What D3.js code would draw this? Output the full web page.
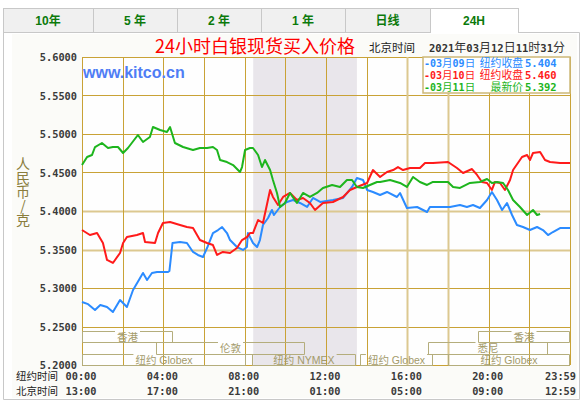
<!DOCTYPE html>
<html><head><meta charset="utf-8">
<script src="https://cdn.jsdelivr.net/npm/d3@7"></script>
<style>
html,body{margin:0;padding:0;background:#fff;}
svg{display:block;}
</style></head>
<body>
<script>
// ---------- data ----------
const tabs = ["10年","5 年","2 年","1 年","日线","24H"];
const title = "24小时白银现货买入价格";
const yAxisTitle = "人民币/克";
const yTicks = [5.20,5.25,5.30,5.35,5.40,5.45,5.50,5.55,5.60];
const gridHours = [0,2,4,6,8,10,12,14,16,18,20,22,24];
const labelHours = [0,4,8,12,16,20,24];
const nyLabels = ["00:00","04:00","08:00","12:00","16:00","20:00","23:59"];
const bjLabels = ["13:00","17:00","21:00","01:00","05:00","09:00","12:59"];
const legendDates = ["03月09日","03月10日","03月11日"];
const legendKinds = ["纽约收盘","纽约收盘","最新价"];
const legendValues = ["5.404","5.460","5.392"];
const nymexBand = [8.42, 13.52];

const sessionNames = ["香港","香港","伦敦","悉尼","纽约 Globex","纽约 NYMEX","纽约 Globex","纽约 Globex"];
const sessionStart = [0, 19.48, 3.64, 17.02, 0, 8.36, 13.67, 18.0];
const sessionEnd   = [4.48, 24, 10.97, 22.92, 8.07, 13.48, 17.26, 24];
const sessionRow   = [0, 0, 1, 1, 2, 2, 2, 2];

const blueHours = [0,0.3,0.64,0.9,1.23,1.52,1.87,2.21,2.51,3.0,3.2,3.44,3.69,4.23,4.3,4.45,4.82,5.16,5.46,5.7,5.95,6.15,6.44,6.69,6.89,7.13,7.28,7.62,7.92,8.11,8.16,8.41,8.61,8.75,8.9,9.15,9.34,9.44,9.74,10.08,10.38,10.72,11.07,11.36,11.71,12.34,12.84,13.28,13.52,13.82,14.02,14.31,14.66,15.0,15.49,15.64,15.98,16.48,16.97,17.11,18.1,18.59,18.93,19.23,19.57,19.92,20.16,20.41,20.66,20.9,21.15,21.39,21.69,22.03,22.38,22.67,22.92,23.16,23.51,24.0];
const blueValues = [5.2818,5.2790,5.2714,5.2780,5.2753,5.2688,5.2844,5.2753,5.2974,5.3195,5.3104,5.3195,5.3208,5.3208,5.3221,5.3584,5.3597,5.3584,5.3468,5.3429,5.3403,5.3519,5.3714,5.3753,5.3792,5.3714,5.3623,5.3532,5.3494,5.3532,5.3714,5.3584,5.3532,5.3623,5.3818,5.3909,5.4013,5.3948,5.4052,5.4117,5.4143,5.4104,5.4052,5.4169,5.4117,5.4143,5.4169,5.4312,5.4429,5.4403,5.4273,5.4247,5.4208,5.4247,5.4182,5.4234,5.4039,5.4052,5.3987,5.4052,5.4052,5.4078,5.4052,5.4078,5.4039,5.4143,5.4247,5.4143,5.4013,5.4104,5.3948,5.3818,5.3792,5.3753,5.3792,5.3753,5.3688,5.3727,5.3779,5.3779];

const redHours = [0,0.39,0.74,1.03,1.23,1.52,1.87,2.02,2.21,2.7,3.0,3.1,3.59,3.74,3.98,4.33,4.82,5.16,5.46,5.8,6.15,6.44,6.64,6.93,7.28,7.62,7.87,8.11,8.26,8.41,8.66,8.9,9.25,9.39,9.64,9.89,10.23,10.57,10.87,11.21,11.46,11.85,12.34,12.84,13.18,13.52,14.02,14.31,14.66,15.0,15.3,15.54,15.79,16.13,16.62,16.87,17.26,18.0,18.44,18.74,19.18,19.43,19.67,19.92,20.16,20.31,20.56,20.8,21.05,21.2,21.64,21.89,22.03,22.18,22.53,22.77,23.02,23.51,24.0];
const redValues = [5.3753,5.3688,5.3714,5.3584,5.3364,5.3325,5.3455,5.3584,5.3662,5.3688,5.3714,5.3597,5.3584,5.3714,5.3844,5.3857,5.3818,5.3792,5.3779,5.3623,5.3584,5.3558,5.3429,5.3468,5.3455,5.3519,5.3623,5.3662,5.3714,5.3714,5.3883,5.3844,5.4273,5.4182,5.4078,5.4182,5.4234,5.4143,5.4169,5.4104,5.4013,5.4104,5.4117,5.4182,5.4273,5.4312,5.4364,5.4532,5.4442,5.4506,5.4532,5.4571,5.4532,5.4558,5.4558,5.4623,5.4623,5.4636,5.4558,5.4494,5.4545,5.4468,5.4377,5.4364,5.4273,5.4377,5.4364,5.4273,5.4403,5.4532,5.4701,5.4727,5.4662,5.4753,5.4766,5.4662,5.4636,5.4623,5.4623];

const greenHours = [0,0.25,0.49,0.64,0.98,1.28,1.52,1.77,2.02,2.26,2.75,3.0,3.34,3.49,3.84,4.18,4.33,4.57,4.97,5.46,5.8,6.15,6.44,6.64,6.79,7.13,7.43,7.77,7.87,8.02,8.26,8.41,8.66,8.85,9.0,9.25,9.39,9.59,9.74,9.98,10.23,10.57,10.87,11.21,11.56,11.85,12.3,12.69,13.03,13.28,13.52,13.82,14.16,14.51,14.66,15.15,15.64,15.98,16.28,16.62,16.97,17.26,18.0,18.25,18.59,19.08,19.57,19.92,20.16,20.41,20.71,20.95,21.2,21.54,21.89,22.18,22.38,22.53];
const greenValues = [5.4597,5.4701,5.4727,5.4831,5.4883,5.4818,5.4831,5.4831,5.4753,5.4818,5.4987,5.4896,5.4961,5.5091,5.5052,5.5026,5.5091,5.4883,5.4831,5.4792,5.4818,5.4818,5.4831,5.4792,5.4662,5.4636,5.4597,5.4506,5.4571,5.4792,5.4818,5.4818,5.4727,5.4571,5.4662,5.4532,5.4403,5.4234,5.4052,5.4104,5.4234,5.4104,5.4234,5.4182,5.4234,5.4299,5.4338,5.4312,5.4403,5.4403,5.4312,5.4299,5.4338,5.4377,5.4377,5.4403,5.4364,5.4312,5.4442,5.4377,5.4338,5.4377,5.4377,5.4312,5.4299,5.4364,5.4377,5.4416,5.4364,5.4377,5.4364,5.4273,5.4143,5.4052,5.3948,5.4013,5.3948,5.3961];

const seriesColors = ["#2b8bff","#ff1a1a","#1db51d"];

// ---------- drawing ----------
const W = 585, H = 402;
const svg = d3.select("body").append("svg").attr("width", W).attr("height", H);
const CJK = "'Noto Sans CJK SC','Noto Sans',sans-serif";
const MONO = "'DejaVu Sans Mono','Liberation Mono',monospace";

// tabs
const tabEdges = [3,93,177,261,345,430,518];
const tabG = svg.append("g");
tabs.forEach((t,i)=>{
  const x0 = tabEdges[i], x1 = tabEdges[i+1];
  const active = i === tabs.length-1;
  tabG.append("rect").attr("x",x0+0.5).attr("y",8.5).attr("width",x1-x0).attr("height",24)
    .attr("fill", active ? "#ffffff" : "#f0f0f0").attr("stroke","#c8c8c8");
  tabG.append("text").attr("x",(x0+x1)/2).attr("y",25).attr("text-anchor","middle")
    .attr("font-family","'Liberation Sans',"+CJK).attr("font-weight","bold").attr("font-size",12)
    .attr("fill","#0b7a0b").text(t);
});
// panel border
svg.append("path").attr("d","M3.5,32.5 V399.5 H579.5 V32.5 H518.5").attr("fill","none").attr("stroke","#c8c8c8");
svg.append("line").attr("x1",3.5).attr("x2",430).attr("y1",32.5).attr("y2",32.5).attr("stroke","#c8c8c8");
svg.append("line").attr("x1",431).attr("x2",518).attr("y1",32.5).attr("y2",32.5).attr("stroke","#fff");

// chart image background
svg.append("rect").attr("x",12).attr("y",34).attr("width",565).attr("height",364).attr("fill","#fbfbf8");

const pL = 82, pR = 570, pT = 57, pB = 365;
const x = d3.scaleLinear().domain([0,24]).range([pL,pR]);
const y = d3.scaleLinear().domain([5.2,5.6]).range([pB,pT]);

svg.append("rect").attr("x",pL).attr("y",pT).attr("width",pR-pL).attr("height",pB-pT).attr("fill","#fefefe");
svg.append("rect").attr("x",x(nymexBand[0])).attr("y",pT).attr("width",x(nymexBand[1])-x(nymexBand[0]))
  .attr("height",pB-pT).attr("fill","#e9e6eb");

// grid
const grid = svg.append("g");
const lightH = [5.35,5.40], lightV = [16,18];
yTicks.forEach(v=>{
  const l = lightH.some(a=>Math.abs(a-v)<1e-6);
  grid.append("line").attr("x1",pL).attr("x2",pR).attr("y1",Math.round(y(v))+0.5).attr("y2",Math.round(y(v))+0.5)
    .attr("stroke", l ? "#dcc890" : "#c9a236").attr("stroke-width", l ? 2 : 1);
});
gridHours.forEach(h=>{
  const l = lightV.includes(h);
  grid.append("line").attr("y1",pT).attr("y2",pB).attr("x1",Math.round(x(h))+0.5).attr("x2",Math.round(x(h))+0.5)
    .attr("stroke", l ? "#dcc890" : "#c9a236").attr("stroke-width", l ? 2 : 1);
});

// session boxes
const rowTop = [331,342,354], rowH = [11,12,11];
const sesG = svg.append("g");
sessionNames.forEach((n,i)=>{
  const x0 = Math.round(x(sessionStart[i]))+0.5, x1 = Math.round(x(sessionEnd[i]))-0.5;
  const t0 = rowTop[sessionRow[i]]+0.5, t1 = t0 + rowH[sessionRow[i]];
  const cx = (x0+x1)/2;
  const txt = sesG.append("text").attr("x",cx).attr("y",t0+9.5).attr("text-anchor","middle")
    .attr("font-family","'Liberation Sans',"+CJK).attr("font-size",10.5).attr("fill","#a39a6a").text(n);
  const w = txt.node().getComputedTextLength();
  const g0 = cx - w/2 - 2, g1 = cx + w/2 + 2;
  sesG.insert("path","text").attr("d",`M${g0},${t0} H${x0} V${t1} H${x1} V${t0} H${g1}`)
    .attr("fill","none").attr("stroke","#b4ad7c").attr("stroke-width",1);
});

// lines
const lineGen = d3.line().x(d=>x(d[0])).y(d=>y(d[1])).curve(d3.curveLinear);
const series = [
  d3.zip(blueHours, blueValues),
  d3.zip(redHours, redValues),
  d3.zip(greenHours, greenValues)
];
series.forEach((s,i)=>{
  svg.append("path").datum(s).attr("d",lineGen).attr("fill","none")
    .attr("stroke",seriesColors[i]).attr("stroke-width",2).attr("stroke-linejoin","round");
});

// y labels
yTicks.forEach(v=>{
  svg.append("text").attr("x",77).attr("y",y(v)+4).attr("text-anchor","end")
    .attr("font-family",MONO).attr("font-weight","bold").attr("font-size",10.3).attr("fill","#3a3a3a")
    .text(d3.format(".4f")(v));
});
svg.append("text").attr("x",23).attr("y",157)
  .attr("style","writing-mode: vertical-rl; text-orientation: upright;")
  .attr("font-family",CJK).attr("font-size",14).attr("fill","#8a7d3c").text(yAxisTitle);

// x labels
svg.append("text").attr("x",16).attr("y",380).attr("font-family",CJK).attr("font-size",10.5).attr("fill","#222").text("纽约时间");
svg.append("text").attr("x",16).attr("y",395).attr("font-family",CJK).attr("font-size",10.5).attr("fill","#222").text("北京时间");
labelHours.forEach((h,i)=>{
  const cx = Math.min(x(h)-1, 560.5);
  svg.append("text").attr("x",cx).attr("y",380).attr("text-anchor","middle")
    .attr("font-family",MONO).attr("font-weight","bold").attr("font-size",10.3).attr("fill","#3a3a3a").text(nyLabels[i]);
  svg.append("text").attr("x",cx).attr("y",395).attr("text-anchor","middle")
    .attr("font-family",MONO).attr("font-weight","bold").attr("font-size",10.3).attr("fill","#3a3a3a").text(bjLabels[i]);
});

// watermark
svg.append("text").attr("x",83).attr("y",78).attr("font-family","'Liberation Sans',Arial,sans-serif")
  .attr("font-weight","bold").attr("font-size",16).attr("fill","#4f7df5").text("www.kitco.cn");

// title
svg.append("text").attr("x",155).attr("y",53).attr("font-family",CJK).attr("font-size",18)
  .attr("fill","#ff0000").text(title);
svg.append("text").attr("x",369).attr("y",52).attr("font-family",CJK).attr("font-size",11.5).attr("fill","#222").text("北京时间");
const dt = svg.append("text").attr("x",429).attr("y",52).attr("fill","#333").attr("font-size",12);
[["2021",1],["年",0],["03",1],["月",0],["12",1],["日",0],["11",1],["时",0],["31",1],["分",0]].forEach(([s,m])=>{
  dt.append("tspan").attr("font-family", m?MONO:CJK).attr("font-weight", m?"bold":"normal")
    .attr("font-size", m?10.5:12).text(s);
});

// legend: one text element per row
svg.append("rect").attr("x",423).attr("y",57).attr("width",147).attr("height",36)
  .attr("fill","#ffffff").attr("stroke","#cdb877").attr("stroke-width",1.5);
legendDates.forEach((d,i)=>{
  const ly = 67 + i*12;
  const t = svg.append("text").attr("x",424).attr("y",ly).attr("fill",seriesColors[i])
    .attr("font-family",MONO).attr("font-size",10);
  const parts = [["-",1],[d.slice(0,2),1],["月",0],[d.slice(3,5),1],["日",0]];
  parts.forEach(([s,m])=>t.append("tspan").attr("font-family",m?MONO:CJK).attr("font-weight",m?"bold":"normal")
      .attr("font-size",m?10:10.5).text(s));
  const kindW = legendKinds[i].length * 10.8;
  t.append("tspan").attr("x",523 - kindW).attr("font-family",CJK).attr("font-size",10.8).text(legendKinds[i]);
  t.append("tspan").attr("x",525).attr("font-family",MONO).attr("font-weight","bold").attr("font-size",10.5).text(legendValues[i]);
});
</script>
</body></html>
